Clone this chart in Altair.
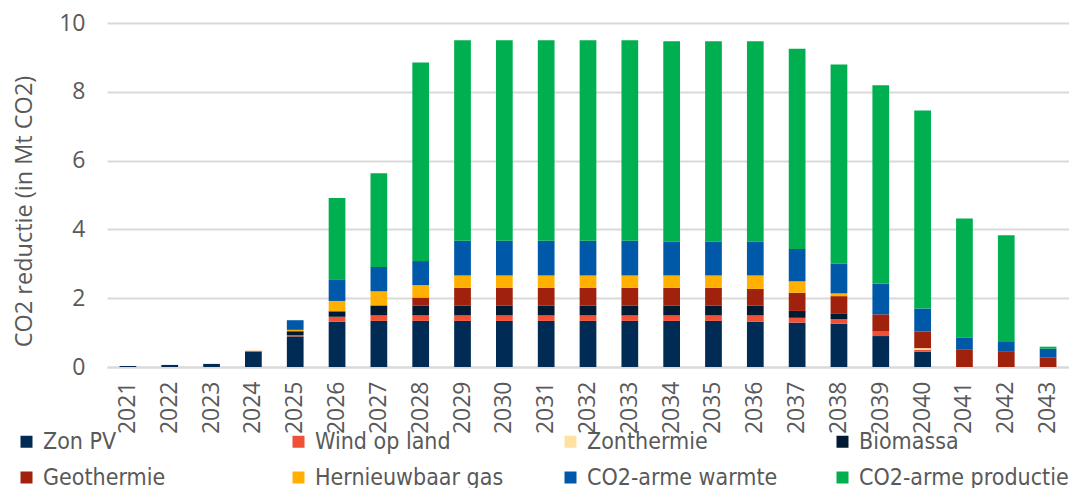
import altair as alt
import pandas as pd

years = [str(y) for y in range(2021, 2044)]

series = ["Zon PV", "Wind op land", "Zonthermie", "Biomassa", "Geothermie",
          "Hernieuwbaar gas", "CO2-arme warmte", "CO2-arme productie"]
colors = ["#002B54", "#F05035", "#FFE2A3", "#001A33", "#A0210C",
          "#FFB000", "#0058A9", "#00B050"]

zon_pv = [0.03, 0.06, 0.09, 0.45, 0.89, 1.32, 1.34, 1.34, 1.34, 1.34, 1.34, 1.34,
          1.34, 1.34, 1.34, 1.32, 1.29, 1.26, 0.90, 0.44, 0.0, 0.0, 0.0]
wind = [0.0, 0.0, 0.0, 0.02, 0.04, 0.14, 0.16, 0.16, 0.16, 0.16, 0.16, 0.16,
        0.16, 0.16, 0.16, 0.18, 0.14, 0.13, 0.13, 0.06, 0.0, 0.0, 0.0]
zonthermie = [0.0, 0.0, 0.0, 0.01, 0.0, 0.0, 0.0, 0.0, 0.0, 0.0, 0.0, 0.0,
              0.0, 0.0, 0.0, 0.0, 0.0, 0.0, 0.0, 0.05, 0.0, 0.0, 0.0]
biomassa = [0.0, 0.0, 0.0, 0.0, 0.11, 0.16, 0.29, 0.29, 0.29, 0.29, 0.29, 0.29,
            0.29, 0.29, 0.29, 0.29, 0.20, 0.17, 0.0, 0.0, 0.0, 0.0, 0.0]
geothermie = [0.0, 0.0, 0.0, 0.0, 0.0, 0.0, 0.0, 0.23, 0.51, 0.51, 0.51, 0.51,
              0.51, 0.51, 0.51, 0.48, 0.53, 0.50, 0.50, 0.48, 0.50, 0.46, 0.27]
hern_gas = [0.0, 0.0, 0.0, 0.0, 0.04, 0.30, 0.41, 0.36, 0.36, 0.36, 0.36, 0.36,
            0.36, 0.36, 0.36, 0.39, 0.33, 0.08, 0.0, 0.0, 0.0, 0.0, 0.0]
warmte = [0.0, 0.0, 0.0, 0.0, 0.28, 0.63, 0.71, 0.70, 1.01, 1.01, 1.01, 1.01,
          1.01, 0.99, 0.99, 0.99, 0.94, 0.87, 0.89, 0.67, 0.36, 0.29, 0.26]
productie = [0.0, 0.0, 0.0, 0.0, 0.0, 2.36, 2.72, 5.77, 5.83, 5.83, 5.83, 5.83,
             5.83, 5.82, 5.82, 5.82, 5.82, 5.78, 5.77, 5.76, 3.46, 3.08, 0.06]

values = [zon_pv, wind, zonthermie, biomassa, geothermie, hern_gas, warmte, productie]

rows = []
for si, (name, vals) in enumerate(zip(series, values)):
    for y, v in zip(years, vals):
        rows.append({"jaar": y, "bron": name, "waarde": v, "volgorde": si})
df = pd.DataFrame(rows)

txt = "#595959"
axis_font = "Open Sans"
leg_font = "DejaVu Sans Condensed, Liberation Sans Narrow, DejaVu Sans"

chart = alt.Chart(df).mark_bar().encode(
    x=alt.X("jaar:N", sort=years,
            scale=alt.Scale(paddingInner=0.6, paddingOuter=0.3),
            axis=alt.Axis(title=None, labelAngle=-90, labelFontSize=23,
                          labelFont=axis_font, labelColor=txt, labelPadding=14,
                          ticks=False, domainColor="#D9D9D9", domainWidth=2,
                          labelAlign="right", labelBaseline="middle")),
    y=alt.Y("sum(waarde):Q", stack="zero",
            scale=alt.Scale(domain=[0, 10], nice=False),
            axis=alt.Axis(title="CO2 reductie (in Mt CO2)", values=[0, 2, 4, 6, 8, 10],
                          labelFontSize=23, labelFont=axis_font, labelColor=txt,
                          labelPadding=22, ticks=False, domain=False,
                          gridColor="#D9D9D9", gridWidth=2,
                          titleFont=axis_font, titleFontSize=23.5,
                          titleFontWeight="normal", titleColor=txt,
                          titlePadding=22, titleY=188)),
    color=alt.Color("bron:N", sort=series,
                    scale=alt.Scale(domain=series, range=colors),
                    legend=alt.Legend(title=None, orient="none",
                                      legendX=-92, legendY=407,
                                      direction="horizontal", columns=4,
                                      gridAlign="all", columnPadding=34,
                                      rowPadding=12,
                                      symbolType="square", symbolSize=144,
                                      symbolStrokeWidth=0, labelOffset=5,
                                      labelFont=leg_font, labelFontSize=23,
                                      labelColor=txt, labelLimit=400)),
    order=alt.Order("volgorde:Q", sort="ascending"),
).properties(
    width=962, height=344,
    autosize=alt.AutoSizeParams(type="none"),
    padding={"left": 99, "top": 15, "right": 0, "bottom": 121},
).configure_view(stroke=None)

chart.save("out.html", embed_options={"renderer": "svg", "actions": False})
